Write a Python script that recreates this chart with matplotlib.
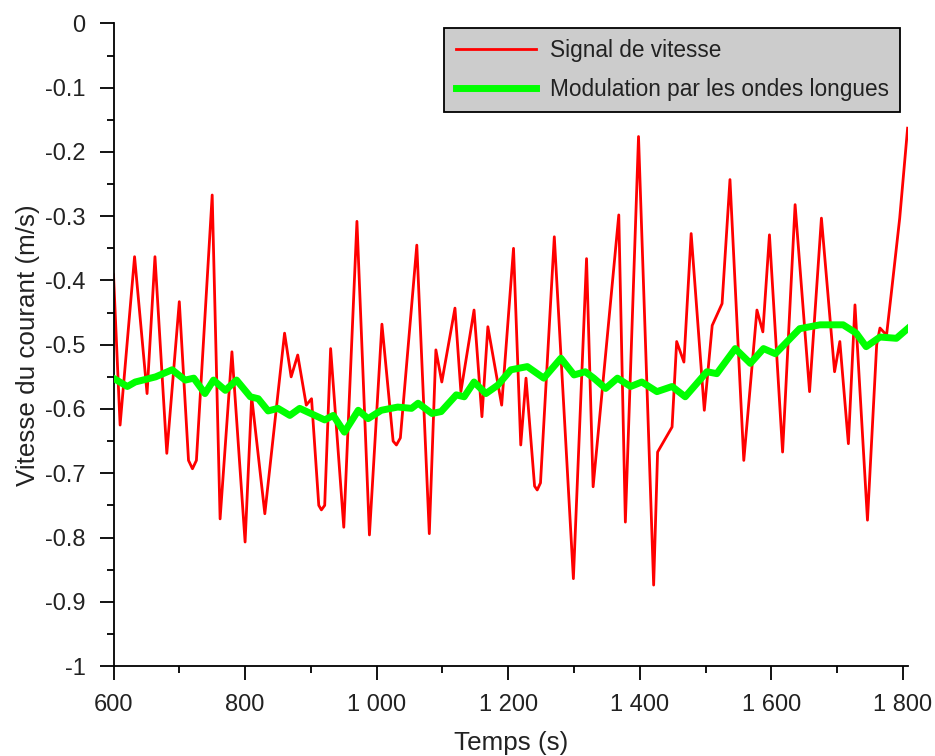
import matplotlib
matplotlib.use("Agg")
import matplotlib.pyplot as plt
from matplotlib.ticker import FixedLocator, MultipleLocator

plt.rcParams['font.family'] = ['Liberation Sans', 'DejaVu Sans']

# Red: speed signal (time s, velocity m/s)
sig_t = [600, 610, 632, 651, 663, 681, 700, 714, 720, 726, 750, 762, 780, 800, 810, 830,
         860, 870, 880, 893, 901, 912, 916, 921, 930, 950, 970, 989, 1008, 1025, 1030, 1036,
         1061, 1080, 1090, 1099, 1119, 1128, 1148, 1160, 1169, 1190, 1208, 1219, 1227,
         1240, 1244, 1249, 1270, 1299, 1319, 1329, 1368, 1378, 1398, 1421, 1427, 1449,
         1456, 1467, 1478, 1498, 1510, 1525, 1537, 1558, 1578, 1587, 1597, 1617, 1636,
         1658, 1676, 1696, 1704, 1717, 1727, 1746, 1760, 1765, 1775, 1782, 1795, 1807]
sig_v = [-0.391, -0.625, -0.363, -0.576, -0.363, -0.669, -0.433, -0.680, -0.693, -0.680,
         -0.267, -0.771, -0.511, -0.807, -0.581, -0.763,
         -0.482, -0.550, -0.516, -0.594, -0.584, -0.750, -0.757, -0.750, -0.506, -0.784,
         -0.308, -0.796, -0.468, -0.650, -0.656, -0.645,
         -0.345, -0.794, -0.508, -0.558, -0.443, -0.573, -0.446, -0.612, -0.472, -0.594,
         -0.350, -0.656, -0.552, -0.720, -0.726, -0.715, -0.332, -0.864, -0.366, -0.721,
         -0.298, -0.776, -0.176, -0.874, -0.667, -0.628, -0.495, -0.527, -0.327, -0.602,
         -0.470, -0.436, -0.243, -0.680, -0.446, -0.480, -0.329, -0.667, -0.282,
         -0.573, -0.303, -0.542, -0.495, -0.654, -0.438, -0.773, -0.500, -0.474, -0.485,
         -0.422, -0.303, -0.163]

# Green: long-wave modulation
mod_t = [603, 621, 633, 664, 689, 709, 722, 739, 752, 770, 787, 808, 820, 835, 850, 868,
         883, 921, 934, 951, 972, 987, 1007, 1032, 1053, 1063, 1084, 1098, 1121, 1133,
         1148, 1166, 1184, 1204, 1229, 1254, 1280, 1300, 1317, 1330, 1348, 1366, 1386,
         1403, 1426, 1449, 1469, 1502, 1517, 1545, 1568, 1588, 1606, 1643, 1674, 1709,
         1729, 1744, 1765, 1790, 1807]
mod_v = [-0.554, -0.565, -0.558, -0.550, -0.539, -0.555, -0.552, -0.576, -0.555, -0.571,
         -0.555, -0.581, -0.584, -0.603, -0.599, -0.610, -0.599, -0.617, -0.610, -0.636,
         -0.602, -0.615, -0.602, -0.597, -0.599, -0.591, -0.607, -0.604, -0.578, -0.581,
         -0.558, -0.576, -0.563, -0.539, -0.534, -0.552, -0.521, -0.547, -0.542, -0.552,
         -0.568, -0.552, -0.565, -0.558, -0.573, -0.565, -0.581, -0.542, -0.545, -0.506,
         -0.529, -0.506, -0.514, -0.475, -0.469, -0.469, -0.482, -0.503, -0.488, -0.490,
         -0.475]

xticks = [600, 800, 1000, 1200, 1400, 1600, 1800]
xtick_labels = ["600", "800", "1 000", "1 200", "1 400", "1 600", "1 800"]
yticks = [0, -0.1, -0.2, -0.3, -0.4, -0.5, -0.6, -0.7, -0.8, -0.9, -1]
ytick_labels = ["0", "-0.1", "-0.2", "-0.3", "-0.4", "-0.5", "-0.6", "-0.7", "-0.8", "-0.9", "-1"]

fig = plt.figure(figsize=(9.35, 7.56), dpi=100)
ax = fig.add_axes([0.1214, 0.119, 0.85, 0.85])

ax.plot(sig_t, sig_v, color='#ff0000', lw=2.0, label='Signal de vitesse', zorder=2)
ax.plot(mod_t, mod_v, color='#00ff00', lw=5.0, label='Modulation par les ondes longues',
        zorder=3, solid_joinstyle='round')

ax.set_xlim(600, 1808)
ax.set_ylim(-1, 0)
ax.xaxis.set_major_locator(FixedLocator(xticks))
ax.set_xticklabels(xtick_labels)
ax.yaxis.set_major_locator(FixedLocator(yticks))
ax.set_yticklabels(ytick_labels)
ax.xaxis.set_minor_locator(MultipleLocator(100))
ax.yaxis.set_minor_locator(MultipleLocator(0.05))
ax.tick_params(which='major', direction='out', length=10, width=1.3, labelsize=17,
               colors='black', labelcolor='#222222', pad=10)
ax.tick_params(which='minor', direction='out', length=5, width=1.3)

for s in ['top', 'right']:
    ax.spines[s].set_visible(False)
for s in ['left', 'bottom']:
    ax.spines[s].set_linewidth(1.3)

ax.set_xlabel('Temps (s)', fontsize=18.7, color='#222222', labelpad=11)
ax.set_ylabel('Vitesse du courant (m/s)', fontsize=18.7, color='#222222', labelpad=4)

leg = ax.legend(loc='upper right', bbox_to_anchor=(0.99, 0.993), fontsize=16.3,
                frameon=True, fancybox=False, handlelength=3.55, handletextpad=0.62,
                borderpad=0.5, labelspacing=0.7, borderaxespad=0)
fr = leg.get_frame()
fr.set_facecolor('#cccccc')
fr.set_edgecolor('black')
fr.set_linewidth(1.3)
fr.set_alpha(1)
for t in leg.get_texts():
    t.set_color('#222222')

fig.savefig('out.png', dpi=100)
